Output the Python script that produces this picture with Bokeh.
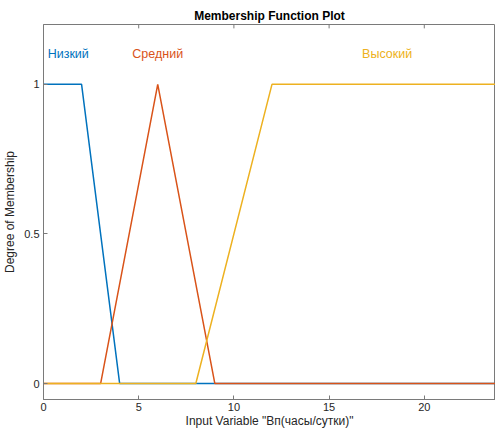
from bokeh.plotting import figure
from bokeh.models import Range1d, FixedTicker, Title
from bokeh.core.properties import value
from bokeh.embed import file_html
from bokeh.resources import INLINE

# data
low_x = [0, 2, 4, 24]
low_y = [1, 1, 0, 0]
mid_x = [0, 3, 6, 9, 24]
mid_y = [0, 0, 1, 0, 0]
high_x = [0, 8, 12, 24]
high_y = [0, 0, 1, 1]
names = ["Низкий", "Средний", "Высокий"]
label_x = [1.3, 6.0, 18.05]
label_y = [1.1, 1.1, 1.1]
colors = ["#0072BD", "#D95319", "#EDB120"]
x_ticks = [0, 5, 10, 15, 20]
y_ticks = [0, 0.5, 1]

FONT = "Liberation Sans"
AX = "#7a7a7a"
Y_TOP = 1.2

p = figure(width=495, height=430, output_backend="svg", toolbar_location=None,
           x_range=Range1d(0, 23.74), y_range=Range1d(-0.0533, Y_TOP),
           min_border_left=43, min_border_right=0, min_border_top=24,
           min_border_bottom=30)
p.background_fill_color = "white"
p.border_fill_color = "white"
p.grid.visible = False
p.outline_line_color = AX
p.outline_line_width = 1

p.add_layout(Title(text="Membership Function Plot", align="center",
                   text_font=FONT, text_font_size="12px", text_font_style="bold",
                   text_color="#000000", standoff=3), "above")

for xs, ys, c in [(low_x, low_y, colors[0]), (mid_x, mid_y, colors[1]), (high_x, high_y, colors[2])]:
    p.line(xs, ys, line_color=c, line_width=1.5)

# inward ticks on the top edge of the box
p.segment(x0=x_ticks, x1=x_ticks, y0=[Y_TOP] * len(x_ticks),
          y1=[Y_TOP - 0.013] * len(x_ticks), line_color=AX, line_width=1)

for nm, lx, ly, c in zip(names, label_x, label_y, colors):
    p.text([lx], [ly], text=[nm], text_color=c, text_font=value(FONT),
           text_font_size="12.5px", text_align="center", text_baseline="middle")

def style(ax):
    ax.axis_line_color = AX
    ax.major_tick_line_color = AX
    ax.minor_tick_line_color = None
    ax.major_tick_in = 4
    ax.major_tick_out = 0
    ax.major_label_text_font = FONT
    ax.major_label_text_font_size = "11px"
    ax.major_label_text_color = "#262626"
    ax.axis_label_text_font = FONT
    ax.axis_label_text_font_size = "12px"
    ax.axis_label_text_font_style = "normal"
    ax.axis_label_text_color = "#262626"

xa = p.xaxis[0]
xa.ticker = FixedTicker(ticks=x_ticks)
xa.axis_label = 'Input Variable "Вп(часы/сутки)"'
xa.major_label_standoff = 3
xa.axis_label_standoff = 0
style(xa)

ya = p.yaxis[0]
ya.ticker = FixedTicker(ticks=y_ticks)
ya.axis_label = "Degree of Membership"
ya.major_label_standoff = 4
ya.axis_label_standoff = 4
style(ya)

open("out.html", "w").write(file_html(p, INLINE))
